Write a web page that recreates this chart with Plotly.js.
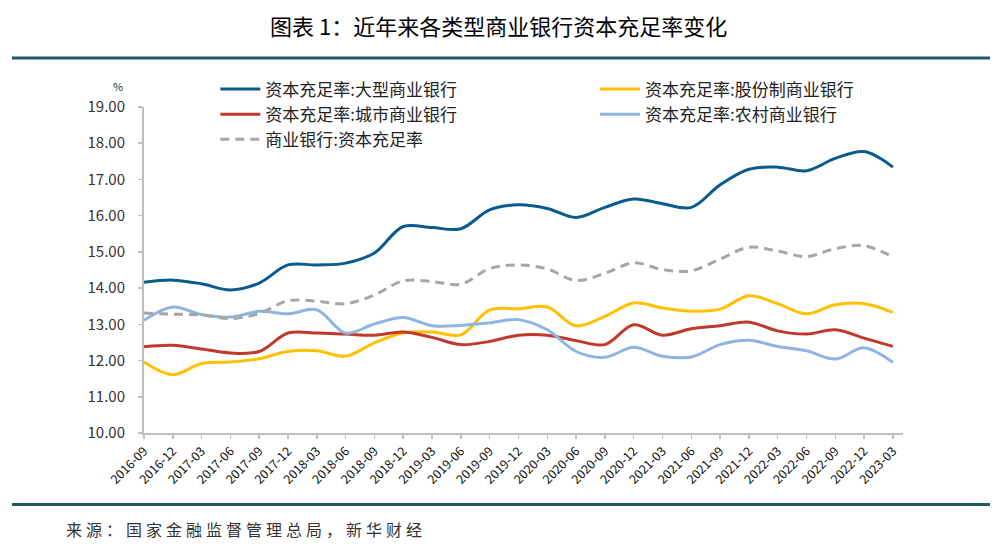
<!DOCTYPE html>
<html><head><meta charset="utf-8">
<script src="https://cdn.plot.ly/plotly-3.0.1.min.js"></script>
<style>html,body{margin:0;padding:0;background:#fff;} #chart{width:1002px;height:555px;}</style>
</head><body><div id="chart"></div>
<script>
const quarters = ["2016-09","2016-12","2017-03","2017-06","2017-09","2017-12","2018-03","2018-06","2018-09","2018-12","2019-03","2019-06","2019-09","2019-12","2020-03","2020-06","2020-09","2020-12","2021-03","2021-06","2021-09","2021-12","2022-03","2022-06","2022-09","2022-12","2023-03"];
const largeBanks = [14.16,14.22,14.12,13.95,14.14,14.64,14.64,14.69,14.97,15.70,15.67,15.64,16.16,16.30,16.20,15.95,16.23,16.46,16.33,16.23,16.85,17.28,17.34,17.24,17.58,17.77,17.34];
const jointStockBanks = [11.96,11.61,11.92,11.96,12.05,12.25,12.27,12.12,12.49,12.76,12.79,12.71,13.40,13.43,13.48,12.96,13.22,13.59,13.45,13.36,13.42,13.79,13.57,13.29,13.54,13.57,13.33];
const cityBanks = [12.38,12.42,12.32,12.21,12.25,12.76,12.76,12.73,12.70,12.79,12.64,12.44,12.53,12.70,12.70,12.55,12.44,12.99,12.70,12.88,12.96,13.06,12.82,12.73,12.85,12.62,12.39];
const ruralBanks = [13.11,13.48,13.27,13.20,13.36,13.29,13.40,12.76,13.01,13.19,12.96,12.97,13.04,13.13,12.85,12.25,12.09,12.37,12.12,12.10,12.44,12.56,12.39,12.27,12.04,12.35,11.95];
const commercialBanks = [13.31,13.28,13.26,13.16,13.30,13.65,13.64,13.57,13.81,14.20,14.18,14.11,14.54,14.64,14.53,14.21,14.41,14.70,14.51,14.48,14.80,15.13,15.02,14.87,15.09,15.17,14.86];
const seriesNames = ["资本充足率:大型商业银行","资本充足率:股份制商业银行","资本充足率:城市商业银行","资本充足率:农村商业银行","商业银行:资本充足率"];
const titleText = "图表 1：近年来各类型商业银行资本充足率变化";
const sourceText = "来源：国家金融监督管理总局，新华财经";
const unitText = "%";

const FONT = "'Noto Sans CJK SC', 'Noto Sans', sans-serif";
const colors = ["#0B5A8E","#FFC000","#C0392B","#8DB4E2","#A6A6A6"];
const values = [largeBanks, jointStockBanks, cityBanks, ruralBanks, commercialBanks];
const legendOf = ["legend","legend2","legend","legend2","legend"];

const traces = values.map((v,i)=>({
  x: quarters, y: v, name: seriesNames[i], type: 'scatter', mode: 'lines',
  legend: legendOf[i], legendgroup: 'g'+i,
  line: {color: colors[i], width: 3, shape: 'spline', smoothing: 1.0, dash: i===4 ? '9px,6px' : 'solid'},
  hoverinfo: 'skip'
}));

const legendBase = {orientation:'v', xanchor:'left', yanchor:'top', itemwidth: 40, tracegroupgap: 1.5,
  font:{family:FONT, size:17, color:'#222'}, bgcolor:'rgba(0,0,0,0)', traceorder:'normal'};

const layout = {
  width: 1002, height: 555,
  margin: {l:144, r:99, t:107, b:121.5, pad:0},
  paper_bgcolor: '#fff', plot_bgcolor: '#fff',
  font: {family: FONT, color: '#333'},
  showlegend: true,
  legend: Object.assign({}, legendBase, {x:0.094, y:1.1087}),
  legend2: Object.assign({}, legendBase, {x:(595-144)/759, y:1.1087}),
  xaxis: {type:'category', range:[0,26.35], showgrid:false, zeroline:false,
    showline:true, linecolor:'#BFBFBF', linewidth:2,
    ticks:'outside', ticklen:4, tickcolor:'#BFBFBF', tickwidth:1.5,
    tickangle:-45, tickfont:{family:FONT, size:12.5, color:'#111'}},
  yaxis: {range:[10,19], dtick:1, tick0:10, tickformat:'.2f', showgrid:false, zeroline:false,
    showline:true, linecolor:'#BFBFBF', linewidth:2,
    ticks:'outside', ticklen:4, tickcolor:'#BFBFBF', tickwidth:1.5, ticklabelstandoff: 10,
    tickfont:{family:FONT, size:15, color:'#333'}},
  shapes: [
    {type:'line', xref:'paper', yref:'paper', x0:-132/759, x1:846/759, y0:1+49/326.5, y1:1+49/326.5, line:{color:'#215968', width:3}},
    {type:'line', xref:'paper', yref:'paper', x0:-132/759, x1:846/759, y0:-71.5/326.5, y1:-71.5/326.5, line:{color:'#215968', width:3}}
  ],
  annotations: [
    {text:titleText, xref:'paper', yref:'paper', x:(498-144)/759, y:1+(107-25)/326.5, xanchor:'center', yanchor:'middle', showarrow:false,
      font:{family:FONT, size:22, color:'#000'}},
    {text:'<span style="letter-spacing:4px">'+sourceText+'</span>', xref:'paper', yref:'paper', x:(64-144)/759, y:-(530-433.5)/326.5, xanchor:'left', yanchor:'middle', showarrow:false,
      font:{family:FONT, size:16, color:'#333'}},
    {text:unitText, xref:'paper', yref:'paper', x:(118-144)/759, y:1+(107-86)/326.5, xanchor:'center', yanchor:'middle', showarrow:false,
      font:{family:FONT, size:11, color:'#333'}}
  ]
};
Plotly.newPlot('chart', traces, layout, {staticPlot:true, displayModeBar:false});
</script></body></html>
